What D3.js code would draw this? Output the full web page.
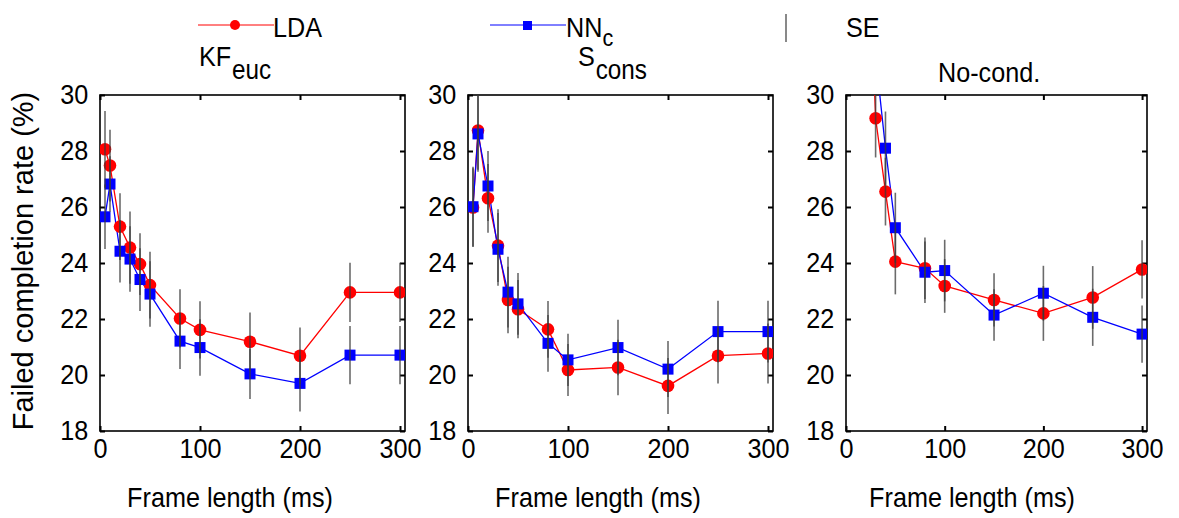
<!DOCTYPE html>
<html>
<head>
<meta charset="utf-8">
<script src="https://cdn.jsdelivr.net/npm/d3@7"></script>
<style>
  body { margin: 0; background: #fff; }
  text { font-family: "Liberation Sans", Arial, Helvetica, sans-serif; fill: #000; }
</style>
</head>
<body>
<svg id="chart" width="1179" height="518"></svg>
<script>
// Frame lengths (ms) shared by every condition
const frameLengths = [5, 10, 20, 30, 40, 50, 80, 100, 150, 200, 250, 300];

// Failed completion rate (%) per condition and classifier
const kfLda      = [28.06, 27.48, 25.30, 24.55, 23.96, 23.21, 22.02, 21.61, 21.19, 20.69, 22.95, 22.95];
const kfNn       = [25.65, 26.82, 24.42, 24.14, 23.41, 22.89, 21.21, 20.98, 20.04, 19.70, 20.71, 20.71];
const sconsLda   = [25.98, 28.73, 26.31, 24.62, 22.68, 22.35, 21.63, 20.18, 20.27, 19.61, 20.69, 20.77];
const sconsNn    = [26.01, 28.61, 26.75, 24.49, 22.96, 22.54, 21.13, 20.54, 20.98, 20.21, 21.55, 21.55];
const nocondLda  = [39.00, 40.00, 38.50, 29.17, 26.55, 24.05, 23.81, 23.18, 22.68, 22.20, 22.77, 23.77];
const nocondNn   = [37.00, 38.00, 36.00, 31.40, 28.10, 25.26, 23.67, 23.73, 22.14, 22.92, 22.06, 21.46];

// Standard errors (%)
const kfLdaSe     = [1.37, 1.28, 1.19, 1.29, 1.10, 1.19, 1.04, 1.02, 1.04, 1.01, 1.06, 1.06];
const kfNnSe      = [1.15, 0.99, 1.12, 1.17, 1.12, 1.17, 1.00, 1.01, 0.90, 1.00, 1.04, 1.04];
const sconsLdaSe  = [1.40, 1.40, 1.23, 1.30, 1.19, 1.04, 1.01, 0.93, 0.99, 1.00, 0.99, 1.07];
const sconsNnSe   = [1.43, 1.35, 1.25, 1.30, 1.26, 1.10, 1.01, 0.93, 0.99, 1.00, 1.10, 1.10];
const nocondLdaSe = [1.50, 1.50, 1.50, 1.40, 1.21, 1.17, 1.10, 0.96, 0.95, 0.98, 1.12, 1.04];
const nocondNnSe  = [1.50, 1.50, 1.40, 1.35, 1.31, 1.25, 1.10, 1.10, 0.92, 0.98, 1.02, 1.02];

// Axis ticks
const yTicks = [18, 20, 22, 24, 26, 28, 30];
const xTicks = [0, 100, 200, 300];
const yLabel = "Failed completion rate (%)";
const xLabel = "Frame length (ms)";

const LDA_COLOR = "#ff0000";
const NN_COLOR = "#0000ff";
const SE_COLOR = "#3a3a3a";

const svg = d3.select("#chart");
const FONT = 28;
const TITLE_SUB_FONT = 27;
const LEGEND_SUB_FONT = 24;
const SQUEEZE = "scale(0.9,1)";   // text is set slightly condensed

// draws a condensed text anchored at (x, y)
function label(parent, x, y, size, anchor) {
  return parent.append("text")
    .attr("transform", `translate(${x},${y}) ${SQUEEZE}`)
    .attr("font-size", size)
    .attr("text-anchor", anchor || "start");
}

const panels = [
  { id: "kf",     left: 100, right: 405,  title: "KF", sub: "euc", tx: 199, lda: kfLda, nn: kfNn, ldaSe: kfLdaSe, nnSe: kfNnSe, xl: 230 },
  { id: "scons",  left: 468, right: 773,  title: "S",  sub: "cons", tx: 578, lda: sconsLda, nn: sconsNn, ldaSe: sconsLdaSe, nnSe: sconsNnSe, xl: 598 },
  { id: "nocond", left: 846, right: 1147, title: "No-cond.", sub: null, tx: 938, lda: nocondLda, nn: nocondNn, ldaSe: nocondLdaSe, nnSe: nocondNnSe, xl: 972 }
];
const TOP = 95, BOTTOM = 431;

const y = d3.scaleLinear().domain([18, 30]).range([BOTTOM, TOP]);

panels.forEach(p => {
  const x = d3.scaleLinear().domain([0, 305]).range([p.left, p.right]);
  const g = svg.append("g");

  // clip region for the data marks
  svg.append("clipPath").attr("id", "clip-" + p.id)
    .append("rect").attr("x", p.left).attr("y", TOP)
    .attr("width", p.right - p.left).attr("height", BOTTOM - TOP);

  // axes with ticks pointing inward
  const left = g.append("g").attr("transform", `translate(${p.left},0)`)
    .call(d3.axisLeft(y).tickValues(yTicks).tickSizeInner(-5).tickSizeOuter(0).tickPadding(13));
  const right = g.append("g").attr("transform", `translate(${p.right},0)`)
    .call(d3.axisRight(y).tickValues(yTicks).tickSizeInner(-5).tickSizeOuter(0).tickFormat(""));
  const bottom = g.append("g").attr("transform", `translate(0,${BOTTOM})`)
    .call(d3.axisBottom(x).tickValues(xTicks).tickSizeInner(-5).tickSizeOuter(0).tickPadding(7));
  const top = g.append("g").attr("transform", `translate(0,${TOP})`)
    .call(d3.axisTop(x).tickValues(xTicks).tickSizeInner(-5).tickSizeOuter(0).tickFormat(""));
  [left, right, bottom, top].forEach(a => {
    a.select(".domain").remove();
    a.selectAll(".tick line").attr("stroke", "#000").attr("stroke-width", 2);
    a.selectAll(".tick text").attr("font-size", FONT).attr("fill", "#000")
      .attr("transform", SQUEEZE)
      .style("font-family", '"Liberation Sans", Arial, sans-serif');
  });
  bottom.selectAll(".tick text").attr("dy", "0.71em");

  // plot box
  g.append("rect").attr("x", p.left).attr("y", TOP)
    .attr("width", p.right - p.left).attr("height", BOTTOM - TOP)
    .attr("fill", "none").attr("stroke", "#000").attr("stroke-width", 1.6);

  const data = g.append("g").attr("clip-path", `url(#clip-${p.id})`);
  const line = d3.line().x((d, i) => x(frameLengths[i])).y(d => y(d));

  // connecting lines
  data.append("path").datum(p.lda).attr("d", line)
    .attr("fill", "none").attr("stroke", LDA_COLOR).attr("stroke-width", 1.3);
  data.append("path").datum(p.nn).attr("d", line)
    .attr("fill", "none").attr("stroke", NN_COLOR).attr("stroke-width", 1.3);

  // markers
  data.selectAll("circle.lda").data(p.lda).join("circle").attr("class", "lda")
    .attr("cx", (d, i) => x(frameLengths[i])).attr("cy", d => y(d))
    .attr("r", 6.3).attr("fill", LDA_COLOR);
  data.selectAll("rect.nn").data(p.nn).join("rect").attr("class", "nn")
    .attr("x", (d, i) => x(frameLengths[i]) - 5.5).attr("y", d => y(d) - 5.5)
    .attr("width", 11).attr("height", 11).attr("fill", NN_COLOR);

  // standard-error bars
  [[p.lda, p.ldaSe], [p.nn, p.nnSe]].forEach(([vals, se]) => {
    data.selectAll(null).data(vals).join("line")
      .attr("x1", (d, i) => x(frameLengths[i])).attr("x2", (d, i) => x(frameLengths[i]))
      .attr("y1", (d, i) => y(d + se[i])).attr("y2", (d, i) => y(d - se[i]))
      .attr("stroke", SE_COLOR).attr("stroke-opacity", 0.75).attr("stroke-width", 1.6);
  });

  // titles
  const t = label(g, p.tx, p.sub ? 66 : 82, FONT);
  t.append("tspan").text(p.title);
  if (p.sub) t.append("tspan").attr("dx", 1).attr("dy", 13).attr("font-size", TITLE_SUB_FONT).text(p.sub);

  // x axis label
  label(g, p.xl, 507, FONT, "middle").text(xLabel);
});

// y axis label
svg.append("text").attr("transform", "translate(33,261) rotate(-90)")
  .attr("text-anchor", "middle").attr("font-size", 29).text(yLabel);

// legend
const leg = svg.append("g");
leg.append("line").attr("x1", 198).attr("x2", 274).attr("y1", 25).attr("y2", 25)
  .attr("stroke", LDA_COLOR).attr("stroke-width", 1);
leg.append("circle").attr("cx", 235).attr("cy", 25).attr("r", 5).attr("fill", LDA_COLOR);
label(leg, 273, 37, FONT).text("LDA");

leg.append("line").attr("x1", 490).attr("x2", 566).attr("y1", 25).attr("y2", 25)
  .attr("stroke", NN_COLOR).attr("stroke-width", 1);
leg.append("rect").attr("x", 523).attr("y", 21).attr("width", 9).attr("height", 9).attr("fill", NN_COLOR);
const nnT = label(leg, 566, 37, FONT);
nnT.append("tspan").text("NN");
nnT.append("tspan").attr("dy", 9).attr("font-size", LEGEND_SUB_FONT).text("c");

leg.append("line").attr("x1", 786).attr("x2", 786).attr("y1", 14).attr("y2", 42)
  .attr("stroke", SE_COLOR).attr("stroke-opacity", 0.75).attr("stroke-width", 1.6);
label(leg, 846, 37, FONT).text("SE");
</script>
</body>
</html>
